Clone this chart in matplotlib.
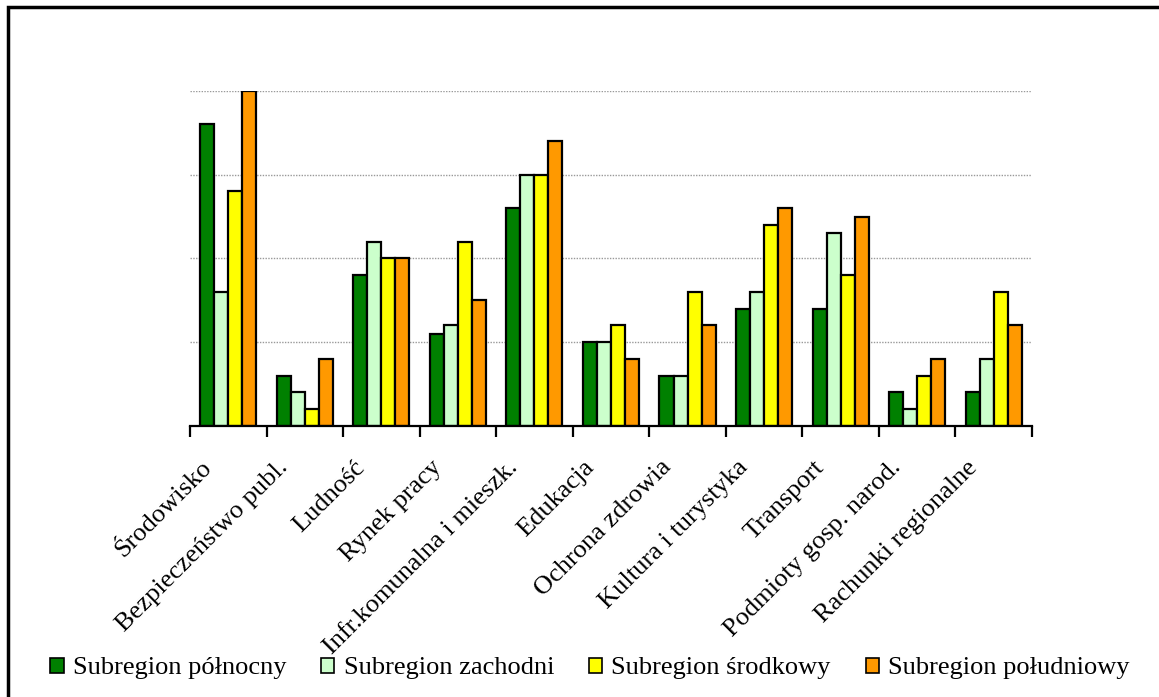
import matplotlib.pyplot as plt
import matplotlib.patches as mpatches
import numpy as np

plt.rcParams['font.family'] = ['Liberation Serif', 'DejaVu Serif']

categories = ['Środowisko', 'Bezpieczeństwo publ.', 'Ludność', 'Rynek pracy',
              'Infr.komunalna i mieszk.', 'Edukacja', 'Ochrona zdrowia',
              'Kultura i turystyka', 'Transport', 'Podmioty gosp. narod.',
              'Rachunki regionalne']
series_names = ['Subregion północny', 'Subregion zachodni',
                'Subregion środkowy', 'Subregion południowy']
polnocny = [36, 6, 18, 11, 26, 10, 6, 14, 14, 4, 4]
zachodni = [16, 4, 22, 12, 30, 10, 6, 16, 23, 2, 8]
srodkowy = [28, 2, 20, 22, 30, 12, 16, 24, 18, 6, 16]
poludniowy = [40, 8, 20, 15, 34, 8, 12, 26, 25, 8, 12]
colors = ['#008000', '#CCFFCC', '#FFFF00', '#FF9900']

fig = plt.figure(figsize=(11.59, 6.97), dpi=100)
ax = fig.add_axes([0.1639, 0.3892, 0.7265, 0.4802])

x = np.arange(len(categories))
w = 0.183
for i, (vals, c) in enumerate(zip([polnocny, zachodni, srodkowy, poludniowy], colors)):
    ax.bar(x + (i - 1.5) * w, vals, w, color=c, edgecolor='black', linewidth=1.6,
           label=series_names[i], zorder=3)

ax.set_xlim(-0.5, len(categories) - 0.5)
ax.set_ylim(0, 40)
ax.set_yticks([10, 20, 30, 40])
ax.yaxis.grid(True, color='#999999', linestyle=(0, (1, 1)), linewidth=1)
ax.tick_params(axis='y', left=False, labelleft=False)
for s in ['left', 'right', 'top']:
    ax.spines[s].set_visible(False)
ax.spines['bottom'].set_linewidth(1.6)
ax.spines['bottom'].set_zorder(4)

# labels sit a little left of the group centre, like the original
ax.set_xticks(x - 0.36)
ax.set_xticklabels(categories, rotation=45, ha='right', rotation_mode='anchor',
                   fontsize=19)
ax.tick_params(axis='x', which='major', length=0, pad=22)
ax.set_xticks(np.arange(len(categories) + 1) - 0.5, minor=True)
ax.tick_params(axis='x', which='minor', length=8, width=1.6, direction='out')

handles = [mpatches.Patch(facecolor=c, edgecolor='black', linewidth=1.2) for c in colors]
fig.legend(handles, series_names, loc='center', bbox_to_anchor=(0.509, 0.041),
           ncol=4, frameon=False, fontsize=19, handlelength=0.5, handleheight=0.5,
           handletextpad=0.35, columnspacing=1.32)

# outer frame, cut off at right and bottom
frame = mpatches.Rectangle((8 / 1159, -0.05), 1.1, 1 - 7 / 697 + 0.05,
                           transform=fig.transFigure, fill=False,
                           edgecolor='black', linewidth=2.5)
fig.patches.append(frame)

fig.savefig('out.png', dpi=100)
